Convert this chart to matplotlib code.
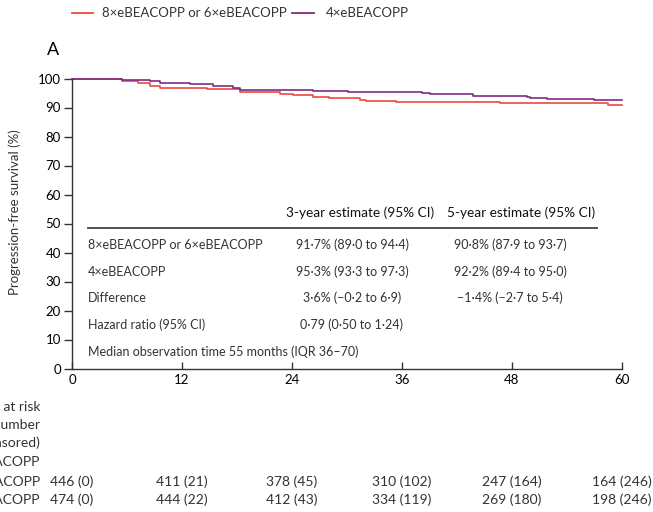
import matplotlib
matplotlib.use('Agg')
import matplotlib.pyplot as plt
from matplotlib.lines import Line2D

plt.rcParams['font.family'] = ['Lato', 'DejaVu Sans']

# Kaplan-Meier steps (months, %)
t_8x = [0, 4.1, 5.4, 7.2, 8.5, 9.6, 14.7, 18.3, 22.7, 24.1, 26.3, 28.0, 31.4, 32.1, 35.4, 46.7, 58.5, 60]
s_8x = [100, 99.8, 99.3, 98.3, 97.5, 96.8, 96.3, 95.5, 94.8, 94.3, 93.6, 93.2, 92.7, 92.3, 92.0, 91.7, 91.0, 91.0]
t_4x = [0, 5.4, 8.5, 9.6, 12.9, 15.4, 17.6, 18.3, 26.3, 30.1, 38.2, 39.1, 43.8, 49.6, 50.0, 51.8, 56.9, 60]
s_4x = [100, 99.5, 99.0, 98.3, 98.0, 97.4, 96.8, 96.0, 95.7, 95.4, 94.9, 94.5, 94.1, 93.7, 93.3, 92.9, 92.5, 92.5]

x_ticks = [0, 12, 24, 36, 48, 60]
y_ticks = [0, 10, 20, 30, 40, 50, 60, 70, 80, 90, 100]

risk_8x = ['446 (0)', '411 (21)', '378 (45)', '310 (102)', '247 (164)', '164 (246)']
risk_4x = ['474 (0)', '444 (22)', '412 (43)', '334 (119)', '269 (180)', '198 (246)']
risk_labels = ['Number at risk', '(number', 'censored)', '8×eBEACOPP', 'or 6×eBEACOPP', '4×eBEACOPP']

row_names = ['8×eBEACOPP or 6×eBEACOPP', '4×eBEACOPP', 'Difference', 'Hazard ratio (95% CI)']
est_3y = ['91·7% (89·0 to 94·4)', '95·3% (93·3 to 97·3)', '3·6% (−0·2 to 6·9)', '0·79 (0·50 to 1·24)']
est_5y = ['90·8% (87·9 to 93·7)', '92·2% (89·4 to 95·0)', '−1·4% (−2·7 to 5·4)', '']

red = '#ec4a3e'
purple = '#7e2c80'
W, H = 653, 512


def fx(px):
    return px / W


def fy(py):
    return 1 - py / H


fig = plt.figure(figsize=(6.53, 5.12), dpi=100)
ax = fig.add_axes([fx(72), fy(368.5), fx(622) - fx(72), fy(78.5) - fy(368.5)])

ax.step(t_8x, s_8x, where='post', color=red, lw=1.2, clip_on=False)
ax.step(t_4x, s_4x, where='post', color=purple, lw=1.2, clip_on=False)

ax.set_xlim(0, 60)
ax.set_ylim(0, 100)
ax.set_xticks(x_ticks)
ax.set_yticks(y_ticks)
for side in ['top', 'right']:
    ax.spines[side].set_visible(False)
for side in ['left', 'bottom']:
    ax.spines[side].set_color('#333333')
    ax.spines[side].set_linewidth(1.0)
ax.tick_params(axis='y', direction='out', length=6, width=1, color='#333333', labelsize=9.5, pad=2)
ax.tick_params(axis='x', direction='in', length=5, width=1, color='#333333', labelsize=9.5, pad=4)

fig.text(fx(15), fy(212), 'Progression-free survival (%)', rotation=90,
         ha='center', va='center', fontsize=9.5, color='#333333')
fig.text(fx(47), fy(50), 'A', fontsize=13, ha='left', va='center')

# legend on top
fig.add_artist(Line2D([fx(72), fx(93)], [fy(13), fy(13)], color=red, lw=1.3))
fig.text(fx(102), fy(13), '8×eBEACOPP or 6×eBEACOPP', fontsize=9.5, va='center', color='#333333')
fig.add_artist(Line2D([fx(292), fx(314)], [fy(13), fy(13)], color=purple, lw=1.3))
fig.text(fx(326), fy(13), '4×eBEACOPP', fontsize=9.5, va='center', color='#333333')

# estimates table inside the plot
fig.text(fx(360), fy(213), '3-year estimate (95% CI)', fontsize=9.8, ha='center', va='center', color='#111111')
fig.text(fx(521), fy(213), '5-year estimate (95% CI)', fontsize=9.8, ha='center', va='center', color='#111111')
fig.add_artist(Line2D([fx(88), fx(597)], [fy(227.5), fy(227.5)], color='#444444', lw=1.3))
row_y = [245, 271.5, 298, 325]
for name, a, b, yy in zip(row_names, est_3y, est_5y, row_y):
    fig.text(fx(88), fy(yy), name, fontsize=9, va='center', color='#333333')
    fig.text(fx(352), fy(yy), a, fontsize=9, ha='center', va='center', color='#333333')
    fig.text(fx(510), fy(yy), b, fontsize=9, ha='center', va='center', color='#333333')
fig.text(fx(88), fy(351.5), 'Median observation time 55 months (IQR 36–70)', fontsize=9,
         va='center', color='#333333')

# numbers at risk (labels run off the left edge, as in the source figure)
label_y = [407, 425, 443, 462, 482, 500]
for lab, yy in zip(risk_labels, label_y):
    fig.text(fx(40), fy(yy), lab, fontsize=10, ha='right', va='center', color='#333333')
for xt, a, b in zip(x_ticks, risk_8x, risk_4x):
    xp = ax.transData.transform((xt, 0))[0] / fig.dpi / fig.get_figwidth()
    fig.text(xp, fy(482), a, fontsize=10, ha='center', va='center', color='#333333')
    fig.text(xp, fy(500), b, fontsize=10, ha='center', va='center', color='#333333')

fig.savefig('out.png', dpi=100)
